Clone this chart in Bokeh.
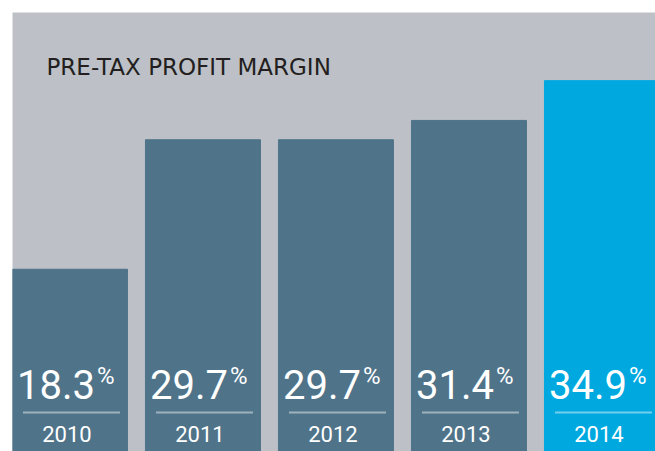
from bokeh.plotting import figure
from bokeh.models import Range1d, Label, ColumnDataSource
from bokeh.core.properties import value
from bokeh.embed import file_html
from bokeh.resources import INLINE

years = ["2010", "2011", "2012", "2013", "2014"]
margins = [18.3, 29.7, 29.7, 31.4, 34.9]
value_labels = ["18.3", "29.7", "29.7", "31.4", "34.9"]
title_text = "PRE-TAX PROFIT MARGIN"

SLATE = "#4f7389"
BLUE = "#00a8e0"
BG = "#bdc1c7"
colors = [SLATE, SLATE, SLATE, SLATE, BLUE]

W, H = 655, 451
FL, FT = 12, 12
FW, FH = W - FL, H - FT
PITCH = 133.0
X0 = -0.432
X1 = X0 + FW / PITCH
Y0, Y1 = 2.26, 40.9

def px_x(px):
    return X0 + (px - 12) / PITCH

def px_y(py):
    return Y0 + (451 - py) * (Y1 - Y0) / FH

p = figure(width=W, height=H, output_backend="svg", toolbar_location=None,
           x_range=Range1d(X0, X1), y_range=Range1d(Y0, Y1),
           min_border_left=FL, min_border_top=FT, min_border_right=0, min_border_bottom=0)
p.axis.visible = False
p.grid.visible = False
p.outline_line_color = None
p.background_fill_color = BG
p.border_fill_color = "white"

idx = list(range(len(years)))
src = ColumnDataSource(dict(x=idx, top=margins, color=colors, years=years, vals=value_labels))
p.vbar(x="x", top="top", bottom=Y0 - 5, width=115 / PITCH, color="color", source=src)

dx = 1.0 / PITCH
# value numbers
p.text(x=[i + 25 * dx for i in idx], y=[px_y(384)] * 5, text=value_labels,
       text_font=value("Roboto"), text_font_size="40px", text_color="white",
       text_align="right", text_baseline="alphabetic")
p.text(x=[i + 27 * dx for i in idx], y=[px_y(375)] * 5, text=["%"] * 5,
       text_font=value("Roboto"), text_font_size="24px", text_color="white",
       text_align="left", text_baseline="alphabetic")
# separators
p.segment(x0=[i - 47 * dx for i in idx], x1=[i + 50 * dx for i in idx],
          y0=[px_y(412)] * 5, y1=[px_y(412)] * 5,
          line_color="white", line_alpha=0.45, line_width=2)
# years
p.text(x=[i - 3 * dx for i in idx], y=[px_y(433)] * 5, text=years,
       text_font=value("Roboto"), text_font_size="22px", text_color="white",
       text_align="center", text_baseline="alphabetic")

p.add_layout(Label(x=px_x(46), y=px_y(66), text=title_text,
                   text_font="DejaVu Sans", text_font_size="23px", text_color="#231f20",
                   text_baseline="alphabetic"))

open("out.html", "w").write(file_html(p, INLINE))
